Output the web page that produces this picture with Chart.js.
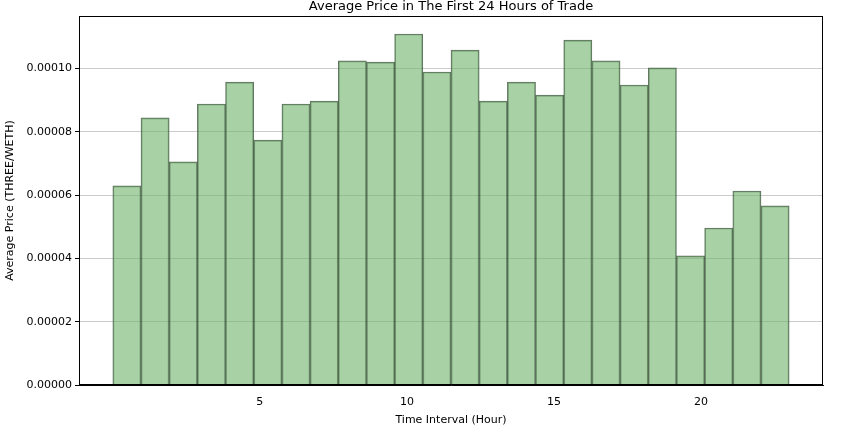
<!DOCTYPE html>
<html><head><meta charset="utf-8">
<script src="https://cdn.jsdelivr.net/npm/chart.js@4"></script>
<style>html,body{margin:0;padding:0;background:#fff}#w{width:851px;height:431px}</style>
</head><body><div id="w"><canvas id="c"></canvas></div>
<script>
const hours = [0,1,2,3,4,5,6,7,8,9,10,11,12,13,14,15,16,17,18,19,20,21,22,23];
const avgPrice = [0.0000629,0.0000844,0.0000705,0.0000888,0.0000957,0.0000774,0.0000888,0.0000897,0.0001024,0.0001020,0.0001109,0.0000989,0.0001058,0.0000897,0.0000957,0.0000916,0.0001090,0.0001024,0.0000948,0.0001002,0.0000408,0.0000496,0.0000613,0.0000566];
const yTicks = [0,0.00002,0.00004,0.00006,0.00008,0.0001];
const titleText = 'Average Price in The First 24 Hours of Trade';
const binW = 23/24;
const pts = hours.map((h,i)=>({x: i*binW + binW/2, y: avgPrice[i]}));
const font = {family:'DejaVu Sans', size:11};
const titlePlugin = {id:'t', afterDraw(ch){const a=ch.chartArea,c=ch.ctx;c.save();c.font='13px DejaVu Sans';c.fillStyle='#000';c.textAlign='center';c.textBaseline='bottom';c.fillText(titleText,(a.left+a.right)/2,a.top-3);
c.strokeStyle='#000';c.lineWidth=1;c.strokeRect(a.left+0.5,a.top+0.5,a.right-a.left-1,a.bottom-a.top-1);c.restore();}};
new Chart(document.getElementById('c'),{
 type:'bar',
 data:{datasets:[{data:pts,backgroundColor:'rgba(110,180,105,0.6)',borderColor:'rgba(50,70,50,0.75)',borderWidth:1,barPercentage:1,categoryPercentage:1,grouped:false}]},
 options:{responsive:true,maintainAspectRatio:false,animation:false,
  layout:{padding:{top:16,right:28,left:0,bottom:0}},
  plugins:{legend:{display:false},tooltip:{enabled:false}},
  scales:{
   x:{type:'linear',min:-1.15,max:24.15,offset:false,grid:{display:false},border:{color:'#000'},
      ticks:{stepSize:5,font,color:'#000',callback:v=>Number.isInteger(v)&&v%5===0&&v>=0&&v<=20?String(v):''},
      title:{display:true,text:'Time Interval (Hour)',font,color:'#000',padding:{top:2}},
      afterFit(s){s.height=46;}},
   y:{min:0,max:0.0001166,grid:{color:'#cccccc',drawTicks:true,tickColor:'#000',tickLength:4},border:{color:'#000'},
      afterBuildTicks(s){s.ticks=yTicks.map(v=>({value:v}));},
      ticks:{font,color:'#000',callback:v=>v.toFixed(5)},
      title:{display:true,text:'Average Price (THREE/WETH)',font,color:'#000'},
      afterFit(s){s.width=79;}}
  }},
 plugins:[titlePlugin]
});
</script></body></html>
